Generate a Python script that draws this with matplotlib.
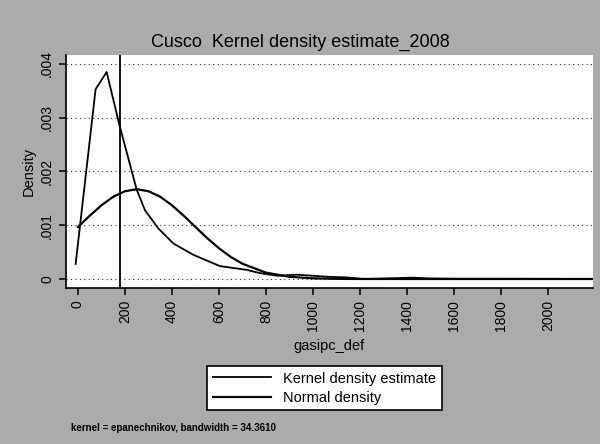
import numpy as np
import matplotlib
matplotlib.use("Agg")
import matplotlib.pyplot as plt

plt.rcParams['font.family'] = ['Liberation Sans', 'DejaVu Sans']

# kernel density estimate
kern_x = [-10, 75, 122, 176, 250, 285, 342, 406, 491, 604, 718, 774, 850, 931,
          1000, 1070, 1143, 1214, 1300, 1426, 1500, 1600, 1800, 2000, 2190]
kern_y = [0.00028, 0.00353, 0.00385, 0.00287, 0.00166, 0.00128, 0.00094, 0.00066,
          0.00045, 0.00024, 0.00017, 0.00011, 0.00006, 0.00008, 0.00006, 0.00004,
          0.00003, 0.0, 0.00001, 0.000025, 0.00001, 0.000005, 0.000005, 0.000003, 0.0]

# normal density
norm_x = [0, 50, 100, 150, 200, 250, 300, 350, 400, 450, 500, 550, 600, 650, 700,
          800, 900, 1000, 1100, 1200, 1400, 1600, 1800, 2000, 2190]
norm_y = [0.000967, 0.001177, 0.001371, 0.00153, 0.001633, 0.00167, 0.001633, 0.00153,
          0.001371, 0.001177, 0.000967, 0.00076, 0.000572, 0.000411, 0.000284,
          0.000118, 0.000041, 0.000012, 0.000003, 0.0000006, 0, 0, 0, 0, 0]

vline_x = 179
xticks = list(range(0, 2001, 200))
yticks = [0, 0.001, 0.002, 0.003, 0.004]
ytick_labels = ['0', '.001', '.002', '.003', '.004']

bg = '#ababab'
fig = plt.figure(figsize=(6, 4.44), dpi=100, facecolor=bg)
ax = fig.add_axes([0.11, 0.3514, 0.878, 0.5248])
ax.set_facecolor('white')

for y in yticks:
    ax.axhline(y, color='#333333', lw=0.8, linestyle=(0, (1, 3)), zorder=1)

k, = ax.plot(kern_x, kern_y, color='black', lw=1.3, zorder=3)
n, = ax.plot(norm_x, norm_y, color='black', lw=1.6, zorder=3)
ax.axvline(vline_x, color='black', lw=1.3, zorder=2)

ax.set_xlim(-51, 2191)
ax.set_ylim(-0.000167, 0.004167)
ax.set_xticks(xticks)
ax.set_xticklabels([str(t) for t in xticks], rotation=90, fontsize=10)
ax.set_yticks(yticks)
ax.set_yticklabels(ytick_labels, rotation=90, va='center', fontsize=10)
ax.tick_params(direction='out', length=5, width=1.1, colors='black')

for s in ['top', 'right']:
    ax.spines[s].set_visible(False)
for s in ['left', 'bottom']:
    ax.spines[s].set_linewidth(1.2)
    ax.spines[s].set_color('black')

ax.set_ylabel('Density', fontsize=10.5, labelpad=3)
ax.set_xlabel('gasipc_def', fontsize=10.5, labelpad=6)

fig.text(0.5, 0.905, 'Cusco  Kernel density estimate_2008', ha='center', va='center',
         fontsize=13)

leg = fig.legend([k, n], ['Kernel density estimate', 'Normal density'],
                 loc='center', bbox_to_anchor=(0.541, 0.126), fontsize=10.5,
                 handlelength=4.0, frameon=True, fancybox=False, borderpad=0.4,
                 labelspacing=0.35)
leg.get_frame().set_edgecolor('black')
leg.get_frame().set_linewidth(1.2)
leg.get_frame().set_facecolor('white')
leg.get_frame().set_alpha(1)

fig.text(0.118, 0.036, 'kernel = epanechnikov, bandwidth = 34.3610', ha='left',
         va='center', fontsize=7, fontweight='bold')

fig.savefig('out.png', dpi=100, facecolor=bg)
